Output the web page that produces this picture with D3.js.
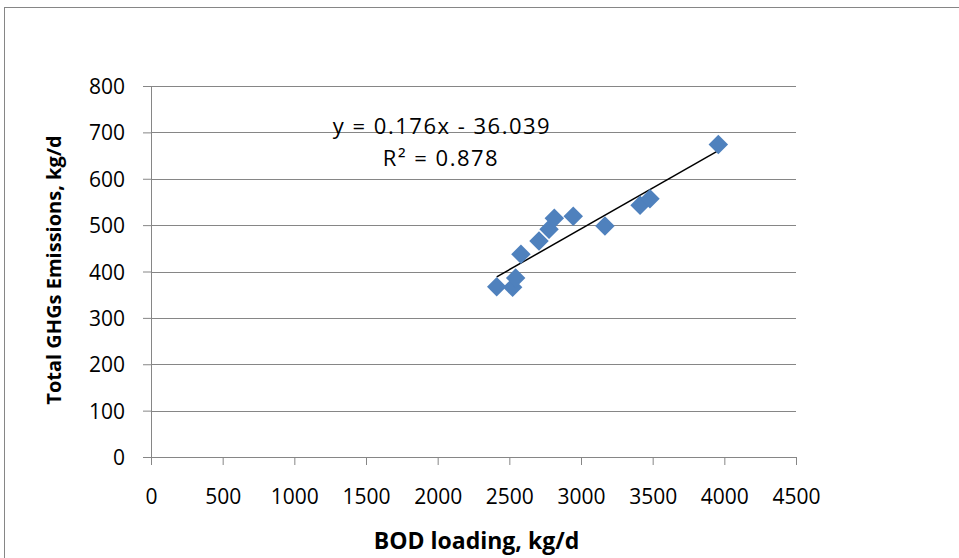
<!DOCTYPE html>
<html>
<head>
<meta charset="utf-8">
<script src="https://cdn.jsdelivr.net/npm/d3@7"></script>
<style>
  body { margin: 0; background: #fff; }
  svg text { font-family: "Open Sans", sans-serif; fill: #000; }
</style>
</head>
<body>
<div id="chart"></div>
<script>
// BOD loading vs total GHG emissions
var bodLoading = [2412, 2523, 2544, 2581, 2707, 2777, 2814, 2946, 3167, 3412, 3481, 3958];
var ghgEmissions = [367, 366, 386, 437, 466, 491, 515, 519, 498, 543, 557, 674];
var xTicks = [0, 500, 1000, 1500, 2000, 2500, 3000, 3500, 4000, 4500];
var yTicks = [0, 100, 200, 300, 400, 500, 600, 700, 800];
var slope = 0.176, intercept = -36.039, rSquared = 0.878;

var svgWidth = 959;
var svgHeight = 558;

var margin = { top: 86, right: 163, bottom: 101, left: 151 };
var chartWidth = svgWidth - margin.left - margin.right;
var chartHeight = svgHeight - margin.top - margin.bottom;

var svg = d3.select("#chart")
    .append("svg")
    .attr("width", svgWidth)
    .attr("height", svgHeight);

// outer chart frame
svg.append("rect")
    .attr("x", 4.5)
    .attr("y", 7.5)
    .attr("width", 1000)
    .attr("height", 1000)
    .attr("fill", "none")
    .attr("stroke", "#868686")
    .attr("stroke-width", 1);

var chartGroup = svg.append("g")
    .attr("transform", `translate(${margin.left}, ${margin.top})`);

var xScale = d3.scaleLinear().domain([0, 4500]).range([0, chartWidth]);
var yScale = d3.scaleLinear().domain([0, 800]).range([chartHeight, 0]);

// gridlines
chartGroup.append("g")
    .selectAll("line")
    .data(yTicks.filter(d => d > 0))
    .enter()
    .append("line")
    .attr("x1", 0)
    .attr("x2", chartWidth)
    .attr("y1", d => Math.round(yScale(d)) + 0.5)
    .attr("y2", d => Math.round(yScale(d)) + 0.5)
    .attr("stroke", "#868686")
    .attr("stroke-width", 1);

// axes
var bottomAxis = d3.axisBottom(xScale).tickValues(xTicks).tickFormat(d3.format("d"))
    .tickSize(8).tickPadding(24);
var leftAxis = d3.axisLeft(yScale).tickValues(yTicks).tickFormat(d3.format("d"))
    .tickSize(8).tickPadding(18);

var xAxis = chartGroup.append("g")
    .attr("transform", `translate(0, ${chartHeight})`)
    .call(bottomAxis);

var yAxis = chartGroup.append("g")
    .call(leftAxis);

[xAxis, yAxis].forEach(function (ax) {
    ax.select(".domain").attr("stroke", "#868686");
    ax.selectAll(".tick line").attr("stroke", "#868686");
    ax.selectAll(".tick text")
        .attr("font-family", "'Open Sans', sans-serif")
        .attr("font-size", "21px")
        .attr("fill", "#000");
});
yAxis.selectAll(".tick text").attr("dy", "0.36em");

// trendline
var xMin = d3.min(bodLoading), xMax = d3.max(bodLoading);
chartGroup.append("line")
    .attr("x1", xScale(xMin))
    .attr("y1", yScale(slope * xMin + intercept))
    .attr("x2", xScale(xMax))
    .attr("y2", yScale(slope * xMax + intercept))
    .attr("stroke", "#000")
    .attr("stroke-width", 1.5);

// diamond markers
var diamond = d3.symbol().type(d3.symbolSquare).size(190);
chartGroup.append("g")
    .selectAll("path")
    .data(bodLoading)
    .enter()
    .append("path")
    .attr("d", diamond)
    .attr("transform", (d, i) => `translate(${xScale(d)}, ${yScale(ghgEmissions[i])}) rotate(45)`)
    .attr("fill", "#4F81BD");

// equation labels
chartGroup.append("text")
    .attr("x", 291)
    .attr("y", 48)
    .attr("text-anchor", "middle")
    .attr("font-size", "22px")
    .attr("letter-spacing", "1.5px")
    .text(`y = ${slope}x - ${Math.abs(intercept)}`);

chartGroup.append("text")
    .attr("x", 290)
    .attr("y", 80)
    .attr("text-anchor", "middle")
    .attr("font-size", "22px")
    .attr("letter-spacing", "1.5px")
    .text(`R² = ${rSquared}`);

// axis titles
chartGroup.append("text")
    .attr("x", chartWidth / 2 + 3)
    .attr("y", chartHeight + 92)
    .attr("text-anchor", "middle")
    .attr("font-size", "23px")
    .attr("font-weight", "bold")
    .text("BOD loading, kg/d");

chartGroup.append("text")
    .attr("transform", "rotate(-90)")
    .attr("x", -184)
    .attr("y", -90)
    .attr("text-anchor", "middle")
    .attr("font-size", "20px")
    .attr("font-weight", "bold")
    .text("Total GHGs Emissions, kg/d");
</script>
</body>
</html>
